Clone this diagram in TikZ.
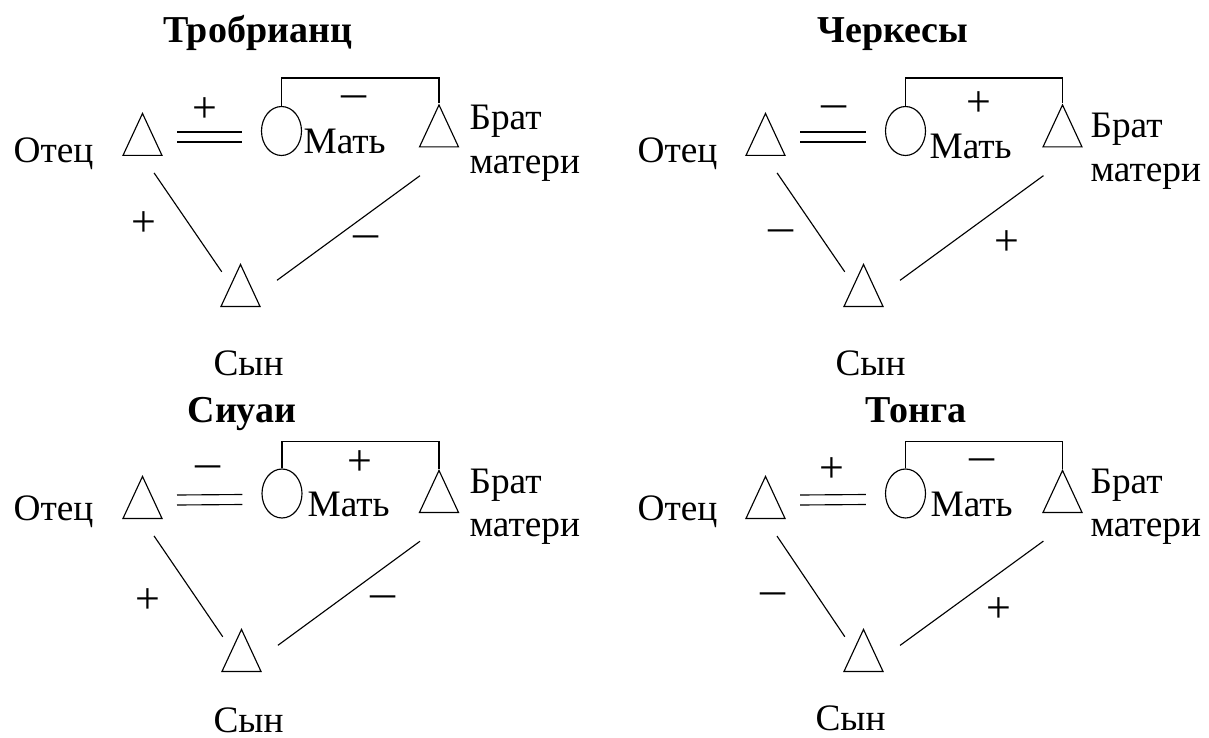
\documentclass[tikz,border=0pt]{standalone}
\usepackage{fontspec}
\setmainfont{Liberation Serif}
\usetikzlibrary{shapes, calc}

\newcommand{\mn}{\scalebox{1.25}[1]{−}}

\begin{document}
\begin{tikzpicture}[x=0.75pt,y=-0.75pt,line width=0.85pt]

\tikzstyle{male}=[isosceles triangle, isosceles triangle stretches, shape border rotate=90, draw, inner sep=0, minimum width=29.25pt, minimum height=31.5pt, anchor=lower side]
\tikzstyle{female}=[ellipse, draw, inner sep=0, minimum width=30pt, minimum height=36.75pt]
\tikzstyle{lbl}=[inner sep=0, anchor=base west, align=left, font=\fontsize{28}{32.25}\selectfont]
\tikzstyle{ttl}=[inner sep=0, anchor=base, font=\fontsize{28.5}{32.25}\selectfont\bfseries]
\tikzstyle{sign}=[inner sep=0, font=\fontsize{33}{36}\selectfont]
\tikzstyle{marr}=[line width=0.85pt]
\tikzstyle{kin}=[line width=0.85pt]
\tikzstyle{sib}=[line width=1.2pt]

\useasboundingbox (0,0) rectangle (1209,738);

	% Trobriand
	\node[ttl] (t1) at (257.5,43) {Тробрианц};
	\node[male] (fa1) at (142.5,156) {};
	\node[female] (mo1) at (281.5,131) {};
	\node[male] (br1) at (439,147.5) {};
	\node[male] (so1) at (240.5,307) {};
	\node[lbl] (fal1) at (13,162) {Отец};
	\node[lbl] (mol1) at (303,153) {Мать};
	\node[lbl] (brl1) at (469,173) {Брат\\матери};
	\node[lbl] (sol1) at (213,375) {Сын};
	\node[sign] (s11) at (205,110) {+};
	\node[sign] (s12) at (354,104) {\mn};
	\node[sign] (s13) at (144,224) {+};
	\node[sign] (s14) at (366,244) {\mn};
	\draw[marr] ($(fa1.lower side)+(34.5,-24)$) -- ($(mo1.west)+(-19,1)$);
	\draw[marr] ($(fa1.lower side)+(34.5,-14)$) -- ($(mo1.west)+(-19,11)$);
	\draw[sib] (mo1.north) -- ++(0,-28) -| (br1.apex);
	\draw[kin, shorten <=15.4pt, shorten >=12pt] (fa1.lower side) -- ($(so1.apex)!.5!(so1.lower side)+(-9.75,0)$);
	\draw[kin, shorten <=35.8pt, shorten >=33.9pt] ($(br1.lower side)+(19.5,0)$) -- (so1.lower side);

	% Circassians
	\node[ttl] (t2) at (893,43) {Черкесы};
	\node[male] (fa2) at (765.5,156) {};
	\node[female] (mo2) at (905.5,131) {};
	\node[male] (br2) at (1062.5,147.5) {};
	\node[male] (so2) at (863.5,307) {};
	\node[lbl] (fal2) at (637,162) {Отец};
	\node[lbl] (mol2) at (929,158) {Мать};
	\node[lbl] (brl2) at (1090,181) {Брат\\матери};
	\node[lbl] (sol2) at (835,375) {Сын};
	\node[sign] (s21) at (834,114) {\mn};
	\node[sign] (s22) at (979,104) {+};
	\node[sign] (s23) at (781,238) {\mn};
	\node[sign] (s24) at (1007,243) {+};
	\draw[marr] ($(fa2.lower side)+(34.5,-24)$) -- ($(mo2.west)+(-19,1)$);
	\draw[marr] ($(fa2.lower side)+(34.5,-14)$) -- ($(mo2.west)+(-19,11)$);
	\draw[sib] (mo2.north) -- ++(0,-28) -| (br2.apex);
	\draw[kin, shorten <=15.4pt, shorten >=12pt] (fa2.lower side) -- ($(so2.apex)!.5!(so2.lower side)+(-9.75,0)$);
	\draw[kin, shorten <=35.8pt, shorten >=33.9pt] ($(br2.lower side)+(19.5,0)$) -- (so2.lower side);

	% Siuai
	\node[ttl] (t3) at (242,422) {Сиуаи};
	\node[male] (fa3) at (142.5,519) {};
	\node[female] (mo3) at (282,493.5) {};
	\node[male] (br3) at (439,513) {};
	\node[male] (so3) at (241.5,672) {};
	\node[lbl] (fal3) at (13,520) {Отец};
	\node[lbl] (mol3) at (307,516) {Мать};
	\node[lbl] (brl3) at (469,536) {Брат\\матери};
	\node[lbl] (sol3) at (213,732) {Сын};
	\node[sign] (s31) at (208,474) {\mn};
	\node[sign] (s32) at (360,463) {+};
	\node[sign] (s33) at (148,601) {+};
	\node[sign] (s34) at (383,604) {\mn};
	\draw[marr] ($(fa3.lower side)+(34.5,-24)$) -- ($(mo3.west)+(-19,1)$);
	\draw[marr] ($(fa3.lower side)+(34.5,-14)$) -- ($(mo3.west)+(-19,11)$);
	\draw[sib] (mo3.north) -- ++(0,-27) -| (br3.apex);
	\draw[kin, shorten <=15.4pt, shorten >=12pt] (fa3.lower side) -- ($(so3.apex)!.5!(so3.lower side)+(-9.75,0)$);
	\draw[kin, shorten <=35.8pt, shorten >=33.9pt] ($(br3.lower side)+(19.5,0)$) -- (so3.lower side);

	% Tonga
	\node[ttl] (t4) at (916,422) {Тонга};
	\node[male] (fa4) at (765.5,519) {};
	\node[female] (mo4) at (905.5,493.5) {};
	\node[male] (br4) at (1062.5,513) {};
	\node[male] (so4) at (863.5,672) {};
	\node[lbl] (fal4) at (637,520) {Отец};
	\node[lbl] (mol4) at (930,516) {Мать};
	\node[lbl] (brl4) at (1090,536) {Брат\\матери};
	\node[lbl] (sol4) at (815,730) {Сын};
	\node[sign] (s41) at (832,470) {+};
	\node[sign] (s42) at (982,467) {\mn};
	\node[sign] (s43) at (773,601) {\mn};
	\node[sign] (s44) at (999,610) {+};
	\draw[marr] ($(fa4.lower side)+(34.5,-24)$) -- ($(mo4.west)+(-19,1)$);
	\draw[marr] ($(fa4.lower side)+(34.5,-14)$) -- ($(mo4.west)+(-19,11)$);
	\draw[sib] (mo4.north) -- ++(0,-27) -| (br4.apex);
	\draw[kin, shorten <=15.4pt, shorten >=12pt] (fa4.lower side) -- ($(so4.apex)!.5!(so4.lower side)+(-9.75,0)$);
	\draw[kin, shorten <=35.8pt, shorten >=33.9pt] ($(br4.lower side)+(19.5,0)$) -- (so4.lower side);
\end{tikzpicture}
\end{document}
